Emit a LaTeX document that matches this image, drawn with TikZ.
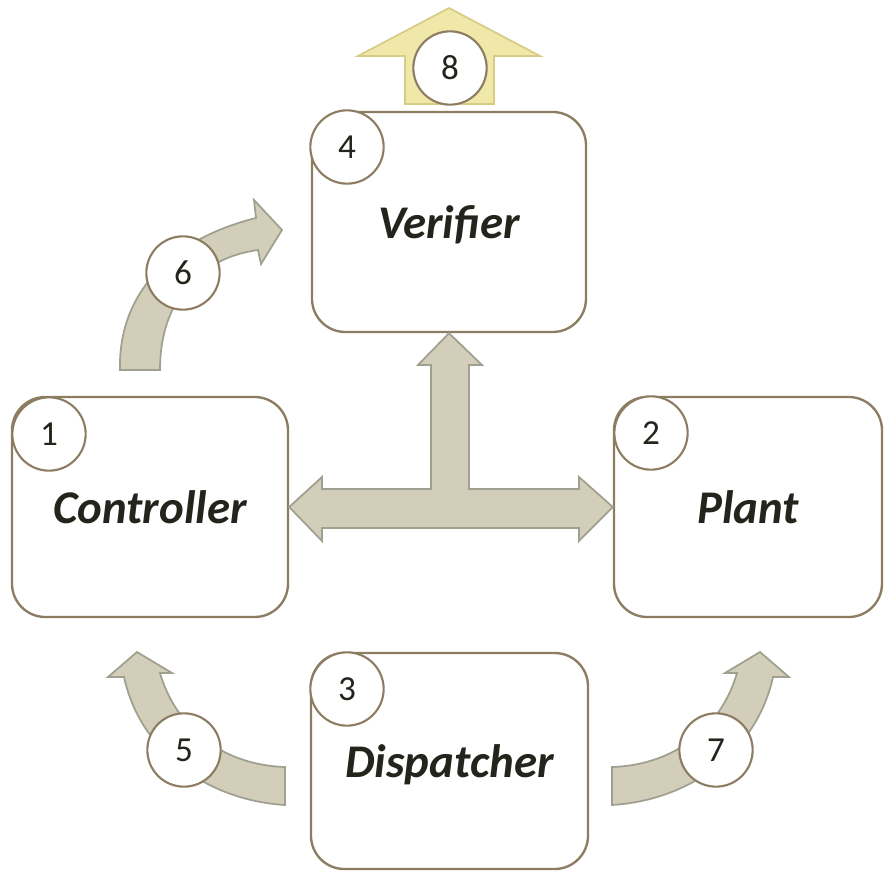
\documentclass[tikz,border=0pt]{standalone}
\usepackage{fontspec}
\setmainfont{Carlito}
\usetikzlibrary{calc}
\definecolor{boxline}{HTML}{8C7D62}
\definecolor{ink}{HTML}{24241C}
\definecolor{arrowfill}{HTML}{D2CEBA}
\definecolor{arrowline}{HTML}{A0A091}
\definecolor{outfill}{HTML}{EFE8A8}
\definecolor{outline}{HTML}{D7CC86}
\begin{document}
\begin{tikzpicture}[x=0.03cm,y=-0.03cm,
  stage/.style={draw=boxline, line width=2pt, rounded corners=1cm, fill=white,
    inner sep=0pt, text depth=0pt, text=ink, font=\fontsize{40}{42}\selectfont\bfseries\itshape},
  badge/.style={circle, draw=boxline, line width=1.8pt, fill=white,
    minimum size=2.2cm, inner sep=0pt, text=ink, font=\fontsize{30}{32}\selectfont},
  blockarrow/.style={fill=arrowfill, draw=arrowline, line width=1.5pt, line join=miter},
  exitarrow/.style={fill=outfill, draw=outline, line width=1.5pt, line join=miter}]
\useasboundingbox (0,0) rectangle (884,872);

% the four components
\node[stage, minimum width=8.22cm, minimum height=6.6cm]  (ver)   at (449,222)   {Veri\kern0pt{}fier};
\node[stage, minimum width=8.28cm, minimum height=6.6cm]  (ctrl)  at (150,507)   {Controller};
\node[stage, minimum width=8.04cm, minimum height=6.6cm]  (plant) at (748,507)   {Plant};
\node[stage, minimum width=8.31cm, minimum height=6.48cm] (disp)  at (449.5,761) {Dispatcher};

% three-way exchange between controller, plant and verifier
\draw[blockarrow] (ver.south) -- (482,365) -- (469,365) -- (469,489) -- (579,489)
  -- (579,477) -- (plant.west) -- (579,541) -- (579,528) -- (322,528) -- (322,541)
  -- (ctrl.east) -- (322,477) -- (322,489) -- (431,489) -- (431,365) -- (418,365) -- cycle;

% output of the verifier
\draw[exitarrow] (449,8) -- (540,56) -- (494,56) -- (494,104) -- (405,104)
  -- (405,56) -- (358,56) -- cycle;

% controller to verifier
\draw[blockarrow] (120,370) .. controls (118,290) and (175,238) .. (256,218)
  -- (254,200) -- (282,230) -- (261,264) -- (258,250)
  .. controls (200,258) and (160,300) .. (160,370) -- cycle;

% dispatcher to controller
\draw[blockarrow] (285,805) .. controls (205,800) and (140,750) .. (124,677)
  -- (108,677) -- (137,652) -- (172,673) -- (160,673)
  .. controls (175,725) and (220,765) .. (285,767) -- cycle;

% dispatcher to plant (mirror of the previous one)
\begin{scope}[xshift=897*0.03cm, xscale=-1]
\draw[blockarrow] (285,805) .. controls (205,800) and (140,750) .. (124,677)
  -- (108,677) -- (137,652) -- (172,673) -- (160,673)
  .. controls (175,725) and (220,765) .. (285,767) -- cycle;
\end{scope}

% numbered badges
\node[badge] (b1) at (49,434)  {1};
\node[badge] (b2) at (651,433) {2};
\node[badge] (b3) at (347,689) {3};
\node[badge] (b4) at (347,147) {4};
\node[badge] (b5) at (184,750) {5};
\node[badge] (b6) at (183,273) {6};
\node[badge] (b7) at (716,750) {7};
\node[badge] (b8) at (450,68)  {8};
\end{tikzpicture}
\end{document}
